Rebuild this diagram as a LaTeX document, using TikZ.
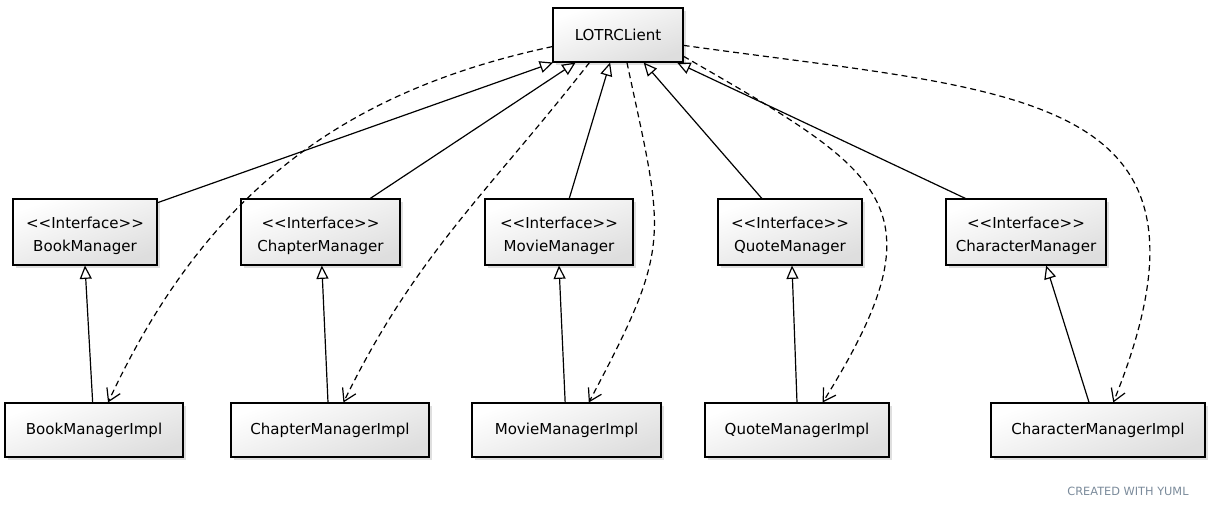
\documentclass[tikz,border=0pt]{standalone}
\usepackage{fontspec}
\setmainfont{DejaVu Sans}
\usepackage{tikz}
\usetikzlibrary{arrows.meta, shadows}
\definecolor{yumlgray}{HTML}{7A8A9A}
\def\boxH{54*0.75pt}
\def\ifaceH{66*0.75pt}
\newcommand{\ifacelabel}[1]{\rule{0pt}{14pt}<{}<Interface>{}>\\#1}
\tikzset{
    umlbox/.style={rectangle, draw, line width=0.8pt, minimum width=#1*0.75pt, minimum height=\boxH,
        top color=white, bottom color=black!13, shading angle=20,
        drop shadow={shadow xshift=2pt, shadow yshift=-2pt, opacity=0.25},
        font=\fontsize{11.3}{17}\selectfont, align=center},
    ifacebox/.style={umlbox=#1, minimum height=\ifaceH},
    realize/.style={-{Triangle[open, length=10pt, width=9pt]}},
    uses/.style={dash pattern=on 4.5pt off 3pt, -{Straight Barb[length=9pt, width=11pt]}}
}
\begin{document}
\begin{tikzpicture}[x=0.75pt, y=-0.75pt, line width=0.9pt]
\useasboundingbox (0,0) rectangle (1211,510);

\node[umlbox=130] (client) at (618,35) {LOTRCLient};

% interfaces
\node[ifacebox=144] (bookI) at (85,232) {\ifacelabel{BookManager}};
\node[ifacebox=159] (chapterI) at (320.5,232) {\ifacelabel{ChapterManager}};
\node[ifacebox=148] (movieI) at (559,232) {\ifacelabel{MovieManager}};
\node[ifacebox=144] (quoteI) at (790,232) {\ifacelabel{QuoteManager}};
\node[ifacebox=160] (characterI) at (1026,232) {\ifacelabel{CharacterManager}};

% implementations
\node[umlbox=178] (bookImpl) at (94,430) {BookManagerImpl};
\node[umlbox=198] (chapterImpl) at (330,430) {ChapterManagerImpl};
\node[umlbox=189] (movieImpl) at (566.5,430) {MovieManagerImpl};
\node[umlbox=184] (quoteImpl) at (797,430) {QuoteManagerImpl};
\node[umlbox=214] (characterImpl) at (1098,430) {CharacterManagerImpl};

\draw[realize] (bookI.22) -- (client.203);
\draw[realize] (chapterI.34) -- (client.213);
\draw[realize] (movieI.73) -- (client.254);
\draw[realize] (quoteI.130) -- (client.313);
\draw[realize] (characterI.151) -- (client.335);

\draw[realize] ([xshift=-1pt]bookImpl.north) -- (bookI.south);
\draw[realize] ([xshift=-1.5pt]chapterImpl.north) -- ([xshift=1pt]chapterI.south);
\draw[realize] ([xshift=-1pt]movieImpl.north) -- (movieI.south);
\draw[realize] (quoteImpl.north) -- ([xshift=1.5pt]quoteI.south);
\draw[realize] (characterImpl.108) -- (characterI.301);

\draw[uses] (client.190) to[out=192, in=65] (bookImpl.63);
\draw[uses] (client.224) to[out=-128, in=64] (chapterImpl.64);
\draw[uses] (client.288) to[out=-78, in=62, looseness=1.35] (movieImpl.51);
\draw[uses] (client.342) to[out=-30, in=58, looseness=1.6] (quoteImpl.47);
\draw[uses] (client.351) to[out=-8, in=68, looseness=1.55] (characterImpl.61);

\node[text=yumlgray, font=\fontsize{8.5}{9}\selectfont, inner sep=0pt] (credit) at (1128,491) {CREATED WITH YUML};
\end{tikzpicture}
\end{document}
